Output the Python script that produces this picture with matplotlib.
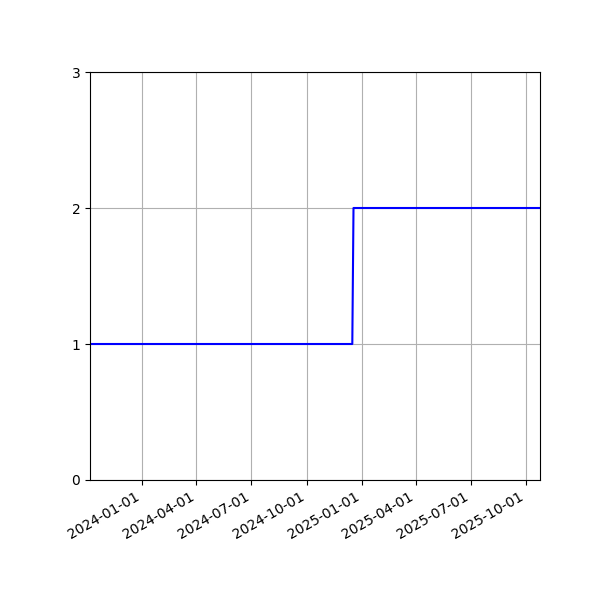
import matplotlib
matplotlib.use("Agg")
import matplotlib.pyplot as plt
import matplotlib.dates as mdates
import numpy as np

# step data
dates = np.array(["2023-10-07", "2024-12-16", "2024-12-18", "2025-10-24"], dtype="datetime64[D]")
values = [1, 1, 2, 2]
tick_dates = np.array(["2024-01-01", "2024-04-01", "2024-07-01", "2024-10-01",
                       "2025-01-01", "2025-04-01", "2025-07-01", "2025-10-01"], dtype="datetime64[D]")

fig, ax = plt.subplots(figsize=(6, 6), dpi=100)
fig.subplots_adjust(left=0.15, right=0.9, top=0.88, bottom=0.2)

ax.plot(dates, values, color="blue")
ax.set_xlim(dates[0], dates[-1])
ax.set_ylim(0, 3)
ax.set_yticks([0, 1, 2, 3])
ax.set_xticks(tick_dates)
ax.xaxis.set_major_formatter(mdates.DateFormatter("%Y-%m-%d"))
ax.grid(True)
fig.autofmt_xdate(rotation=30, ha="right", bottom=0.2)

fig.savefig("out.png")
